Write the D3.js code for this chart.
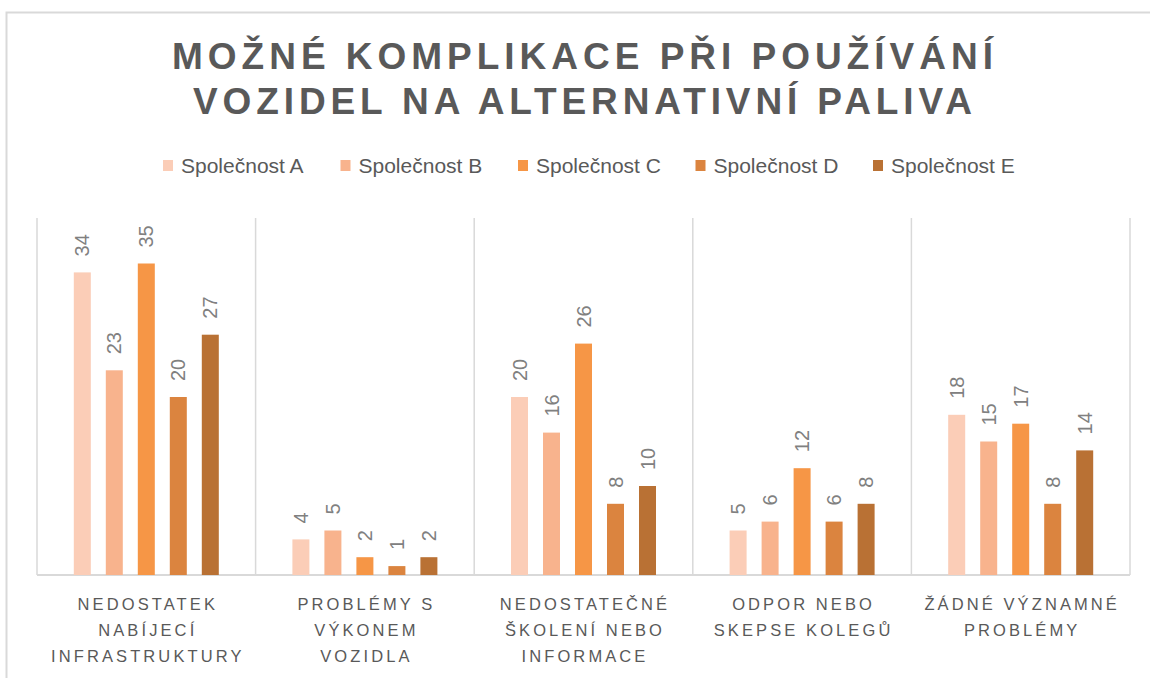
<!DOCTYPE html>
<html>
<head>
<meta charset="utf-8">
<script src="https://cdn.jsdelivr.net/npm/d3@7"></script>
<style>
  html, body { margin: 0; padding: 0; background: #fff; }
  svg { display: block; }
</style>
</head>
<body>
<svg id="chart" width="1150" height="678"></svg>
<script>
const titleLines = ["MOŽNÉ KOMPLIKACE PŘI POUŽÍVÁNÍ", "VOZIDEL NA ALTERNATIVNÍ PALIVA"];
const categories = [
  "NEDOSTATEK\nNABÍJECÍ\nINFRASTRUKTURY",
  "PROBLÉMY S\nVÝKONEM\nVOZIDLA",
  "NEDOSTATEČNÉ\nŠKOLENÍ NEBO\nINFORMACE",
  "ODPOR NEBO\nSKEPSE KOLEGŮ",
  "ŽÁDNÉ VÝZNAMNÉ\nPROBLÉMY"
];
const seriesNames = ["Společnost A", "Společnost B", "Společnost C", "Společnost D", "Společnost E"];
const valuesA = [34, 4, 20, 5, 18];
const valuesB = [23, 5, 16, 6, 15];
const valuesC = [35, 2, 26, 12, 17];
const valuesD = [20, 1, 8, 6, 8];
const valuesE = [27, 2, 10, 8, 14];
const colors = ["#FBCDB7", "#F8B38D", "#F69646", "#DB843F", "#B97134"];

(function () {
const seriesValues = [valuesA, valuesB, valuesC, valuesD, valuesE];
const svg = d3.select("#chart");
const font = "'Liberation Sans', Arial, sans-serif";

// chart border
svg.append("rect").attr("x", 6.5).attr("y", 12.5).attr("width", 1160).attr("height", 700)
  .attr("fill", "none").attr("stroke", "#d9d9d9").attr("stroke-width", 2);

// title
const titleW = [821, 779];
svg.selectAll("text.title").data(titleLines).join("text")
  .attr("class", "title")
  .attr("x", (d, i) => 582.5 - titleW[i] / 2)
  .attr("y", (d, i) => 69 + i * 45)
  .attr("textLength", (d, i) => titleW[i])
  .attr("lengthAdjust", "spacing")
  .attr("font-family", font)
  .attr("font-weight", "bold")
  .attr("font-size", 37)
  .attr("fill", "#595959")
  .text(d => d);

// legend
const legend = svg.append("g");
seriesNames.forEach((s, i) => {
  const lx = 163 + i * 177.5;
  legend.append("rect").attr("x", lx).attr("y", 160).attr("width", 10).attr("height", 11).attr("fill", colors[i]);
  legend.append("text").attr("x", lx + 18).attr("y", 173)
    .attr("font-family", font)
    .attr("font-size", 21).attr("fill", "#595959").text(s);
});

// scales
const pLeft = 37, pRight = 1130, pTop = 219, pBottom = 575;
const x0 = d3.scaleBand().domain(categories).range([pLeft, pRight]).paddingInner(0).paddingOuter(0);
const groupW = 145;
const x1 = d3.scaleBand().domain(seriesNames).range([0, groupW]).paddingInner(15 / 32).paddingOuter(0);
const y = d3.scaleLinear().domain([0, 40]).range([pBottom, pTop]);

// gridlines (vertical separators)
const sepX = categories.map(c => x0(c)).concat([pRight]);
svg.append("g").selectAll("line").data(sepX).join("line")
  .attr("x1", d => d).attr("x2", d => d).attr("y1", pTop - 1).attr("y2", pBottom)
  .attr("stroke", "#d9d9d9").attr("stroke-width", 1.5);

// axis line
svg.append("line").attr("x1", pLeft).attr("x2", pRight).attr("y1", pBottom).attr("y2", pBottom)
  .attr("stroke", "#d9d9d9").attr("stroke-width", 2);

// bars
const off = (x0.bandwidth() - groupW) / 2;
const groups = svg.append("g").selectAll("g").data(categories).join("g")
  .attr("transform", c => `translate(${x0(c) + off},0)`);
groups.each(function(c, ci) {
  const g = d3.select(this);
  seriesNames.forEach((s, si) => {
    const v = seriesValues[si][ci];
    g.append("rect").attr("x", x1(s)).attr("y", y(v)).attr("width", x1.bandwidth())
      .attr("height", y(0) - y(v)).attr("fill", colors[si]);
    const cx = x1(s) + x1.bandwidth() / 2;
    const cy = y(v) - 16;
    g.append("text").attr("transform", `translate(${cx},${cy}) rotate(-90)`)
      .attr("text-anchor", "start").attr("dy", "0.35em")
      .attr("font-family", font)
      .attr("font-size", 20).attr("fill", "#808080").text(v);
  });
});

// category labels
const catG = svg.append("g");
categories.forEach(c => {
  const cx = x0(c) + x0.bandwidth() / 2 + 1.5;
  c.split("\n").forEach((line, li) => {
    catG.append("text").attr("x", cx).attr("y", 610 + li * 26)
      .attr("text-anchor", "middle")
      .attr("font-family", font)
      .attr("font-size", 16.5).attr("letter-spacing", 3.1)
      .attr("fill", "#595959").text(line);
  });
});
})();
</script>
</body>
</html>
